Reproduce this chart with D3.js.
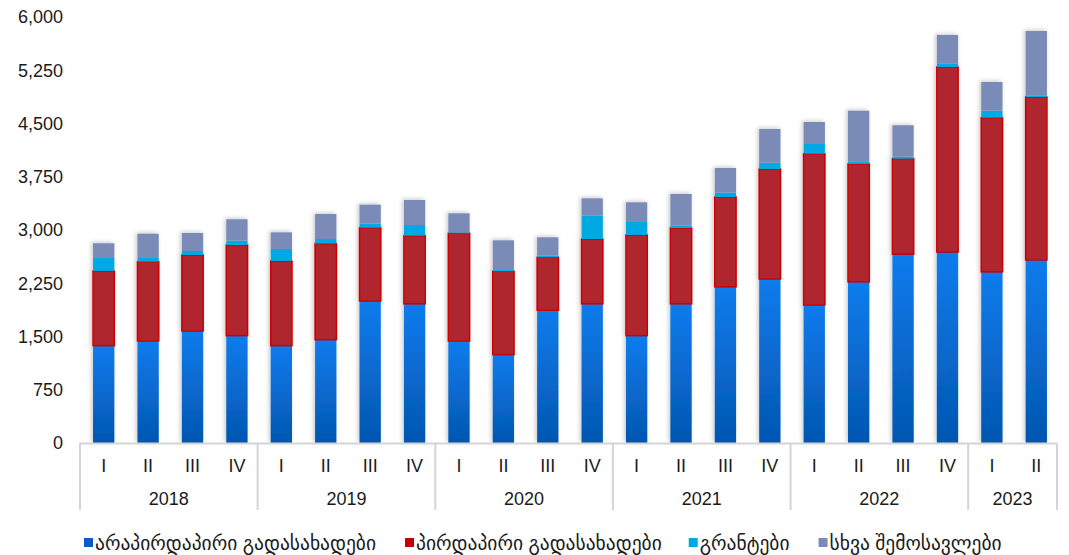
<!DOCTYPE html>
<html>
<head>
<meta charset="utf-8">
<script src="https://cdn.jsdelivr.net/npm/d3@7"></script>
<style>
  body { margin: 0; background: #fff; }
  text { font-family: "Liberation Sans", Arial, "DejaVu Sans", sans-serif; fill: #1a1a1a; }
</style>
</head>
<body>
<div id="root"></div>
<script>
// Data
const years = ["2018", "2019", "2020", "2021", "2022", "2023"];
const quartersPerYear = [4, 4, 4, 4, 4, 2];
const quarterLabels = ["I", "II", "III", "IV", "I", "II", "III", "IV", "I", "II", "III", "IV",
                       "I", "II", "III", "IV", "I", "II", "III", "IV", "I", "II"];
const seriesNames = ["არაპირდაპირი გადასახადები", "პირდაპირი გადასახადები", "გრანტები", "სხვა შემოსავლები"];
const indirectTaxes = [1371, 1437, 1578, 1512, 1371, 1455, 2000, 1960, 1437, 1244, 1870, 1960,
                       1512, 1960, 2200, 2310, 1944, 2270, 2660, 2690, 2410, 2578];
const directTaxes = [1052, 1117, 1070, 1277, 1192, 1353, 1033, 960, 1517, 1174, 745, 913,
                     1418, 1068, 1265, 1549, 2131, 1660, 1344, 2606, 2172, 2295];
const grants = [183, 52, 56, 61, 170, 65, 56, 150, 13, 19, 23, 329,
                183, 33, 61, 89, 136, 38, 29, 52, 98, 24];
const otherRevenue = [207, 342, 254, 301, 234, 352, 268, 353, 268, 418, 259, 244,
                      277, 446, 347, 475, 310, 712, 442, 399, 405, 906];
const yTicks = [0, 750, 1500, 2250, 3000, 3750, 4500, 5250, 6000];

const width = 1069, height = 555;
const margin = { top: 17, right: 12, bottom: 112, left: 80 };

const svg = d3.select("#root")
  .append("svg")
  .attr("width", width)
  .attr("height", height);

// gradients / filters
const defs = svg.append("defs");
const blueGrad = defs.append("linearGradient")
  .attr("id", "blueGrad").attr("x1", 0).attr("y1", 0).attr("x2", 0).attr("y2", 1);
blueGrad.append("stop").attr("offset", "0%").attr("stop-color", "#0a7ced");
blueGrad.append("stop").attr("offset", "100%").attr("stop-color", "#0556b0");

const shadow = defs.append("filter").attr("id", "shadow")
  .attr("x", "-40%").attr("y", "-10%").attr("width", "180%").attr("height", "120%");
shadow.append("feDropShadow")
  .attr("dx", -1.5).attr("dy", -1).attr("stdDeviation", 2)
  .attr("flood-color", "#000").attr("flood-opacity", 0.22);

const rows = indirectTaxes.map((d, i) => ({
  i: i,
  indirect: d,
  direct: directTaxes[i],
  grants: grants[i],
  other: otherRevenue[i]
}));
const keys = ["indirect", "direct", "grants", "other"];
const fills = ["url(#blueGrad)", "#b0282d", "#00a9e3", "#7a8bb7"];
const legendFills = ["#0a5cc6", "#c00000", "#00a9e3", "#7a8bb7"];

const stacked = d3.stack().keys(keys)(rows);

const x = d3.scaleBand()
  .domain(rows.map(d => d.i))
  .range([margin.left, width - margin.right])
  .paddingInner(0.52)
  .paddingOuter(0.26);

const y = d3.scaleLinear()
  .domain([0, 6000])
  .range([height - margin.bottom, margin.top]);

const y0 = y(0);

// Y axis (labels only)
const yAxis = svg.append("g")
  .attr("transform", "translate(" + (margin.left - 17) + ",0)")
  .call(d3.axisLeft(y).tickValues(yTicks).tickFormat(d3.format(",")).tickSize(0).tickPadding(0));
yAxis.select(".domain").remove();
yAxis.selectAll("text")
  .style("font-size", "18px")
  .attr("fill", "#1a1a1a");

// Bars
const barGroup = svg.append("g").attr("filter", "url(#shadow)");
stacked.forEach((layer, k) => {
  barGroup.append("g")
    .selectAll("rect")
    .data(layer)
    .enter()
    .append("rect")
    .attr("x", d => x(d.data.i) + 1.5)
    .attr("width", x.bandwidth())
    .attr("y", d => y(d[1]))
    .attr("height", d => y(d[0]) - y(d[1]))
    .attr("fill", fills[k])
    .attr("stroke", k === 1 ? "#cc0000" : "none")
    .attr("stroke-width", k === 1 ? 1.5 : 0);
});

// Category axis
const axisColor = "#d4d4d4";
const gap = (x.step() - x.bandwidth()) / 2;
svg.append("line")
  .attr("x1", margin.left).attr("x2", width - margin.right)
  .attr("y1", y0 + 0.5).attr("y2", y0 + 0.5)
  .attr("stroke", axisColor).attr("stroke-width", 2);

let start = 0;
const bounds = [0];
quartersPerYear.forEach(n => { start += n; bounds.push(start); });
bounds.forEach(b => {
  const bx = b < rows.length ? x(b) - gap : x(rows.length - 1) + x.bandwidth() + gap;
  svg.append("line")
    .attr("x1", bx).attr("x2", bx)
    .attr("y1", y0).attr("y2", y0 + 67)
    .attr("stroke", axisColor).attr("stroke-width", 2);
});

svg.append("g")
  .selectAll("text")
  .data(quarterLabels)
  .enter()
  .append("text")
  .attr("x", (d, i) => x(i) + x.bandwidth() / 2 + 1.5)
  .attr("y", y0 + 29)
  .attr("text-anchor", "middle")
  .style("font-size", "18px")
  .text(d => d);

svg.append("g")
  .selectAll("text")
  .data(years)
  .enter()
  .append("text")
  .attr("x", (d, i) => {
    const a = x(bounds[i]) - gap;
    const b = x(bounds[i + 1] - 1) + x.bandwidth() + gap;
    return (a + b) / 2;
  })
  .attr("y", y0 + 62)
  .attr("text-anchor", "middle")
  .style("font-size", "18px")
  .text(d => d);

// Legend
const legend = svg.append("g").attr("transform", "translate(84," + 538 + ")");
const legendGaps = [0, 29, 27, 29];
let lx = 0;
seriesNames.forEach((name, k) => {
  lx += legendGaps[k];
  const item = legend.append("g").attr("transform", "translate(" + lx + ",0)");
  item.append("rect")
    .attr("width", 9).attr("height", 9)
    .attr("fill", legendFills[k]);
  const t = item.append("text")
    .attr("x", 11).attr("y", 12)
    .style("font-size", "19.5px")
    .text(name);
  lx += 11 + t.node().getComputedTextLength();
});
</script>
</body>
</html>
